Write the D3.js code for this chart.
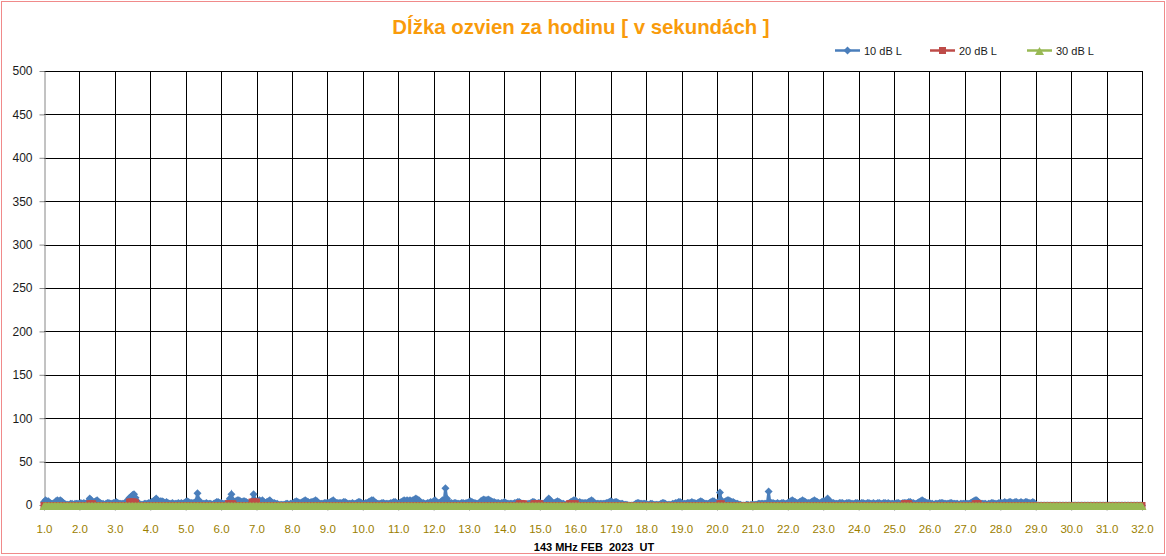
<!DOCTYPE html>
<html>
<head>
<meta charset="utf-8">
<script src="https://cdn.jsdelivr.net/npm/d3@7"></script>
<style>
  body { margin: 0; background: #fff; }
  svg { display: block; }
  text { font-family: "Liberation Sans", Arial, sans-serif; }
</style>
</head>
<body>
<div id="chart"></div>
<script>
// hourly values, one row per day (hour 0..23), last point is 32.0
var blueDays = [
  "4 6 5 5 3 2 2 3 5 6 5 6 5 3 2 1 1 1 2 2 1 2 2 2",
  "2 3 2 3 2 3 4 8 6 3 4 5 6 4 3 2 2 1 2 3 3 2 2 3",
  "3 4 3 2 2 2 2 3 4 7 9 10 12 13 9 5 2 1 1 1 2 2 2 3",
  "3 4 5 6 8 6 4 5 5 4 3 4 3 2 2 3 2 2 2 3 2 3 2 3",
  "4 5 4 3 3 3 3 5 14 6 3 2 2 2 3 2 2 2 1 2 3 4 4 3",
  "3 2 2 2 3 4 8 13 6 4 5 6 6 5 4 5 5 4 3 3 2 5 13 6",
  "4 5 6 5 6 4 3 4 5 6 4 3 3 2 2 1 1 1 1 1 2 2 1 2",
  "2 3 4 5 4 3 3 4 5 6 5 4 3 4 4 5 6 5 3 2 2 2 3 3",
  "3 3 4 5 6 4 3 3 3 3 3 4 4 3 2 2 2 3 2 2 3 4 4 3",
  "2 2 3 3 4 5 6 6 4 3 2 2 2 3 3 2 2 2 2 3 3 4 4 3",
  "2 3 4 5 6 5 6 5 6 5 6 7 8 7 6 4 3 3 2 2 3 3 4 3",
  "5 6 4 3 3 4 6 5 20 8 4 3 3 2 3 3 2 2 2 3 3 2 3 3",
  "4 5 4 3 3 2 2 3 5 6 7 6 6 7 6 5 4 4 3 3 3 2 3 3",
  "4 3 2 2 2 2 2 3 3 4 4 3 2 2 1 1 2 2 3 4 4 3 2 3",
  "3 2 2 2 4 6 8 6 4 3 3 4 5 4 3 2 2 1 1 2 3 4 5 6",
  "6 4 3 4 3 3 3 3 3 4 5 6 5 3 2 2 2 2 2 2 2 3 3 4",
  "5 4 3 4 4 3 2 2 2 1 1 1 0 0 0 0 1 2 3 3 2 2 2 2",
  "2 1 1 2 2 1 1 1 1 1 2 3 3 2 1 1 1 1 2 2 3 3 4 4",
  "3 2 2 2 3 3 3 4 3 3 2 3 4 5 4 3 2 2 2 3 4 5 5 3",
  "3 4 15 6 3 4 5 6 6 5 4 4 3 2 2 1 1 0 0 0 1 1 0 1",
  "1 1 1 1 2 2 2 2 2 2 2 16 3 3 3 2 2 3 2 2 3 3 2 2",
  "3 4 5 6 5 4 3 3 4 5 6 5 4 3 3 3 4 5 6 5 4 3 3 4",
  "5 4 6 8 5 4 3 3 2 2 2 3 3 3 2 2 3 3 3 2 2 2 3 3",
  "2 2 3 3 2 2 3 3 2 2 3 2 2 3 3 2 2 3 3 2 3 2 2 2",
  "2 2 3 3 2 2 3 3 3 3 4 4 3 3 2 2 3 4 5 6 5 4 3 3",
  "3 2 2 1 2 2 2 3 3 3 2 2 2 2 3 3 2 2 2 2 1 2 2 2",
  "2 2 2 2 3 4 5 6 6 4 3 2 2 2 2 1 2 2 3 3 2 2 2 3",
  "3 3 3 4 3 3 4 4 3 3 4 4 3 3 4 3 3 4 4 3 3 3 4 3",
  "0 0 0 0 0 0 0 0 0 0 0 0 0 0 0 0 0 0 0 0 0 0 0 0",
  "0 0 0 0 0 0 0 0 0 0 0 0 0 0 0 0 0 0 0 0 0 0 0 0",
  "0 0 0 0 0 0 0 0 0 0 0 0 0 0 0 0 0 0 0 0 0 0 0 0",
  "0"
];

var redDays = [
  "0 0 0 0 0 0 0 0 0 0 0 0 0 0 0 0 0 0 0 0 0 0 0 0",
  "0 0 0 0 0 0 0 2 2 2 0 0 0 0 0 0 0 0 0 0 0 0 0 0",
  "0 0 0 0 0 0 0 0 0 0 4 4 4 4 3 0 0 0 0 0 0 0 0 0",
  "0 0 0 0 0 0 0 0 0 0 0 0 0 0 0 0 0 0 0 0 0 0 0 0",
  "0 0 0 0 0 0 0 0 0 0 0 0 0 0 0 0 0 0 0 0 0 0 0 0",
  "0 0 0 0 0 2 2 2 2 0 0 0 0 0 0 0 0 0 0 0 0 4 4 4",
  "4 0 0 0 0 0 0 0 0 0 0 0 0 0 0 0 0 0 0 0 0 0 0 0",
  "0 0 0 0 0 0 0 0 0 0 0 0 0 0 0 0 0 0 0 0 0 0 0 0",
  "0 0 0 0 0 0 0 0 0 0 0 0 0 0 0 0 0 0 0 0 0 0 0 0",
  "0 0 0 0 0 0 0 0 0 0 0 0 0 0 0 0 0 0 0 0 0 0 0 0",
  "0 0 0 0 0 0 0 0 0 0 0 0 0 0 0 0 0 0 0 0 0 0 0 0",
  "0 0 0 0 0 0 0 0 0 0 0 0 0 0 0 0 0 0 0 0 0 0 0 0",
  "0 0 0 0 0 0 0 0 0 0 0 0 0 0 0 0 0 0 0 0 0 0 0 0",
  "0 0 0 0 0 0 0 0 0 0 2 2 2 2 0 0 0 0 0 0 2 2 2 2",
  "2 0 0 0 0 0 0 0 0 0 0 0 0 0 0 0 0 0 0 0 2 2 2 2",
  "2 0 0 0 0 0 0 0 0 0 0 0 0 0 0 0 0 0 0 0 0 0 0 0",
  "0 0 0 0 0 0 0 0 0 0 0 0 0 0 0 0 0 0 0 0 0 0 0 0",
  "0 0 0 0 0 0 0 0 0 0 0 0 0 0 0 0 0 0 0 0 0 0 0 0",
  "0 0 0 0 0 0 0 0 0 0 0 0 0 0 0 0 0 0 0 0 0 0 0 0",
  "0 0 2 2 0 0 0 0 0 0 0 0 0 0 0 0 0 0 0 0 0 0 0 0",
  "0 0 0 0 0 0 0 0 0 0 0 0 0 0 0 0 0 0 0 0 0 0 0 0",
  "0 0 0 0 0 0 0 0 0 0 0 0 0 0 0 0 0 0 0 0 0 0 0 0",
  "0 0 0 0 0 0 0 0 0 0 0 0 0 0 0 0 0 0 0 0 0 0 0 0",
  "0 0 0 0 0 0 0 0 0 0 0 0 0 0 0 0 0 0 0 0 0 0 0 0",
  "0 0 0 0 0 0 0 2 2 2 2 0 0 0 0 0 0 0 0 0 0 0 0 0",
  "0 0 0 0 0 0 0 0 0 0 0 0 0 0 0 0 0 0 0 0 0 0 0 0",
  "0 0 0 0 0 0 0 2 2 2 0 0 0 0 0 0 0 0 0 0 0 0 0 0",
  "0 0 0 0 0 0 0 0 0 0 0 0 0 0 0 0 0 0 0 0 0 0 0 0",
  "0 0 0 0 0 0 0 0 0 0 0 0 0 0 0 0 0 0 0 0 0 0 0 0",
  "0 0 0 0 0 0 0 0 0 0 0 0 0 0 0 0 0 0 0 0 0 0 0 0",
  "0 0 0 0 0 0 0 0 0 0 0 0 0 0 0 0 0 0 0 0 0 0 0 0",
  "0"
];

var greenDays = [
  "0 0 0 0 0 0 0 0 0 0 0 0 0 0 0 0 0 0 0 0 0 0 0 0",
  "0 0 0 0 0 0 0 0 0 0 0 0 0 0 0 0 0 0 0 0 0 0 0 0",
  "0 0 0 0 0 0 0 0 0 0 0 0 0 0 0 0 0 0 0 0 0 0 0 0",
  "0 0 0 0 0 0 0 0 0 0 0 0 0 0 0 0 0 0 0 0 0 0 0 0",
  "0 0 0 0 0 0 0 0 0 0 0 0 0 0 0 0 0 0 0 0 0 0 0 0",
  "0 0 0 0 0 0 0 0 0 0 0 0 0 0 0 0 0 0 0 0 0 0 0 0",
  "0 0 0 0 0 0 0 0 0 0 0 0 0 0 0 0 0 0 0 0 0 0 0 0",
  "0 0 0 0 0 0 0 0 0 0 0 0 0 0 0 0 0 0 0 0 0 0 0 0",
  "0 0 0 0 0 0 0 0 0 0 0 0 0 0 0 0 0 0 0 0 0 0 0 0",
  "0 0 0 0 0 0 0 0 0 0 0 0 0 0 0 0 0 0 0 0 0 0 0 0",
  "0 0 0 0 0 0 0 0 0 0 0 0 0 0 0 0 0 0 0 0 0 0 0 0",
  "0 0 0 0 0 0 0 0 0 0 0 0 0 0 0 0 0 0 0 0 0 0 0 0",
  "0 0 0 0 0 0 0 0 0 0 0 0 0 0 0 0 0 0 0 0 0 0 0 0",
  "0 0 0 0 0 0 0 0 0 0 0 0 0 0 0 0 0 0 0 0 0 0 0 0",
  "0 0 0 0 0 0 0 0 0 0 0 0 0 0 0 0 0 0 0 0 0 0 0 0",
  "0 0 0 0 0 0 0 0 0 0 0 0 0 0 0 0 0 0 0 0 0 0 0 0",
  "0 0 0 0 0 0 0 0 0 0 0 0 0 0 0 0 0 0 0 0 0 0 0 0",
  "0 0 0 0 0 0 0 0 0 0 0 0 0 0 0 0 0 0 0 0 0 0 0 0",
  "0 0 0 0 0 0 0 0 0 0 0 0 0 0 0 0 0 0 0 0 0 0 0 0",
  "0 0 0 0 0 0 0 0 0 0 0 0 0 0 0 0 0 0 0 0 0 0 0 0",
  "0 0 0 0 0 0 0 0 0 0 0 0 0 0 0 0 0 0 0 0 0 0 0 0",
  "0 0 0 0 0 0 0 0 0 0 0 0 0 0 0 0 0 0 0 0 0 0 0 0",
  "0 0 0 0 0 0 0 0 0 0 0 0 0 0 0 0 0 0 0 0 0 0 0 0",
  "0 0 0 0 0 0 0 0 0 0 0 0 0 0 0 0 0 0 0 0 0 0 0 0",
  "0 0 0 0 0 0 0 0 0 0 0 0 0 0 0 0 0 0 0 0 0 0 0 0",
  "0 0 0 0 0 0 0 0 0 0 0 0 0 0 0 0 0 0 0 0 0 0 0 0",
  "0 0 0 0 0 0 0 0 0 0 0 0 0 0 0 0 0 0 0 0 0 0 0 0",
  "0 0 0 0 0 0 0 0 0 0 0 0 0 0 0 0 0 0 0 0 0 0 0 0",
  "0 0 0 0 0 0 0 0 0 0 0 0 0 0 0 0 0 0 0 0 0 0 0 0",
  "0 0 0 0 0 0 0 0 0 0 0 0 0 0 0 0 0 0 0 0 0 0 0 0",
  "0 0 0 0 0 0 0 0 0 0 0 0 0 0 0 0 0 0 0 0 0 0 0 0",
  "0"
];

var seriesNames = ["10 dB L", "20 dB L", "30 dB L"];
var seriesColors = ["#4a7ebb", "#be4b48", "#98b954"];
var yTicks = [0, 50, 100, 150, 200, 250, 300, 350, 400, 450, 500];
var xTicks = d3.range(1, 33);
var title = "Dĺžka ozvien za hodinu [ v sekundách ]";
var xTitle = "143 MHz FEB  2023  UT";

function toPoints(days) {
  var vals = days.join(" ").split(" ").map(Number);
  return vals.map((v, i) => ({x: 1 + i / 24, y: v}));
}
var allSeries = [blueDays, redDays, greenDays].map(toPoints);

var W = 1166, H = 556;
var svg = d3.select("#chart").append("svg")
  .attr("width", W).attr("height", H);

svg.append("rect")
  .attr("x", 1.5).attr("y", 1.5)
  .attr("width", W - 3).attr("height", H - 4)
  .attr("fill", "#fff").attr("stroke", "#f08a8a");

var x = d3.scaleLinear().domain([1, 32]).range([44, 1142]);
var y = d3.scaleLinear().domain([0, 500]).range([505, 71]);

// grid
svg.append("g").selectAll("line")
  .data(yTicks.filter(d => d > 0))
  .enter().append("line")
  .attr("x1", x(1)).attr("x2", x(32))
  .attr("y1", d => Math.round(y(d)) + 0.5).attr("y2", d => Math.round(y(d)) + 0.5)
  .attr("stroke", "#000");
svg.append("g").selectAll("line")
  .data(xTicks.filter(d => d > 1))
  .enter().append("line")
  .attr("x1", d => Math.round(x(d)) + 0.5).attr("x2", d => Math.round(x(d)) + 0.5)
  .attr("y1", y(500)).attr("y2", y(0))
  .attr("stroke", "#000");

// axes
var yAxis = svg.append("g")
  .attr("transform", "translate(" + (Math.round(x(1)) + 0.5) + ",0)")
  .call(d3.axisLeft(y).tickValues(yTicks).tickSize(5).tickSizeOuter(0).tickPadding(7));
yAxis.select(".domain").attr("stroke", "#868686");
yAxis.selectAll(".tick line").attr("stroke", "#868686");
yAxis.selectAll("text").attr("font-size", 12).attr("fill", "#1a1a1a")
  .attr("font-family", "Liberation Sans, Arial, sans-serif");

var xAxis = svg.append("g")
  .attr("transform", "translate(0," + (Math.round(y(0)) + 0.5) + ")")
  .call(d3.axisBottom(x).tickValues(xTicks).tickFormat(d3.format(".1f"))
    .tickSize(5).tickSizeOuter(0).tickPadding(14));
xAxis.select(".domain").attr("stroke", "#868686");
xAxis.selectAll(".tick line").attr("stroke", "#868686");
xAxis.selectAll("text").attr("font-size", 11.5).attr("fill", "#9c8000")
  .attr("font-family", "Liberation Sans, Arial, sans-serif");

// series markers (Excel-like sizes)
var markerPaths = [
  "M0,-4L4,0L0,4L-4,0Z",
  "M-3.5,-3.5H3.5V3.5H-3.5Z",
  "M0,-3.5L4.5,4.5H-4.5Z"
];
var line = d3.line().x(d => x(d.x)).y(d => y(d.y));

allSeries.forEach((pts, i) => {
  var g = svg.append("g");
  g.append("path").datum(pts)
    .attr("d", line)
    .attr("fill", "none")
    .attr("stroke", seriesColors[i])
    .attr("stroke-width", 2.5);
  g.selectAll("path.m").data(pts).enter().append("path")
    .attr("class", "m")
    .attr("transform", d => "translate(" + x(d.x) + "," + (y(d.y) + 0.5) + ")")
    .attr("d", markerPaths[i])
    .attr("fill", seriesColors[i]);
});

// legend
var legX = [835, 930, 1027];
seriesNames.forEach((name, i) => {
  var g = svg.append("g").attr("transform", "translate(" + legX[i] + ",50)");
  g.append("line").attr("x1", 0).attr("x2", 25).attr("y1", 0.5).attr("y2", 0.5)
    .attr("stroke", seriesColors[i]).attr("stroke-width", 2.5);
  g.append("path").attr("transform", "translate(12.5,0.5)")
    .attr("d", markerPaths[i])
    .attr("fill", seriesColors[i]);
  g.append("text").attr("x", 29).attr("y", 4.5)
    .attr("font-size", 11).attr("fill", "#1a1a1a").text(name);
});

// titles
svg.append("text")
  .attr("x", 581).attr("y", 34)
  .attr("text-anchor", "middle")
  .attr("font-size", 20.4).attr("font-weight", "bold")
  .attr("fill", "#f99b0b")
  .text(title);

svg.append("text")
  .attr("x", 594).attr("y", 551)
  .attr("text-anchor", "middle")
  .attr("font-size", 11).attr("font-weight", "bold")
  .attr("fill", "#000")
  .style("white-space", "pre")
  .text(xTitle);
</script>
</body>
</html>
